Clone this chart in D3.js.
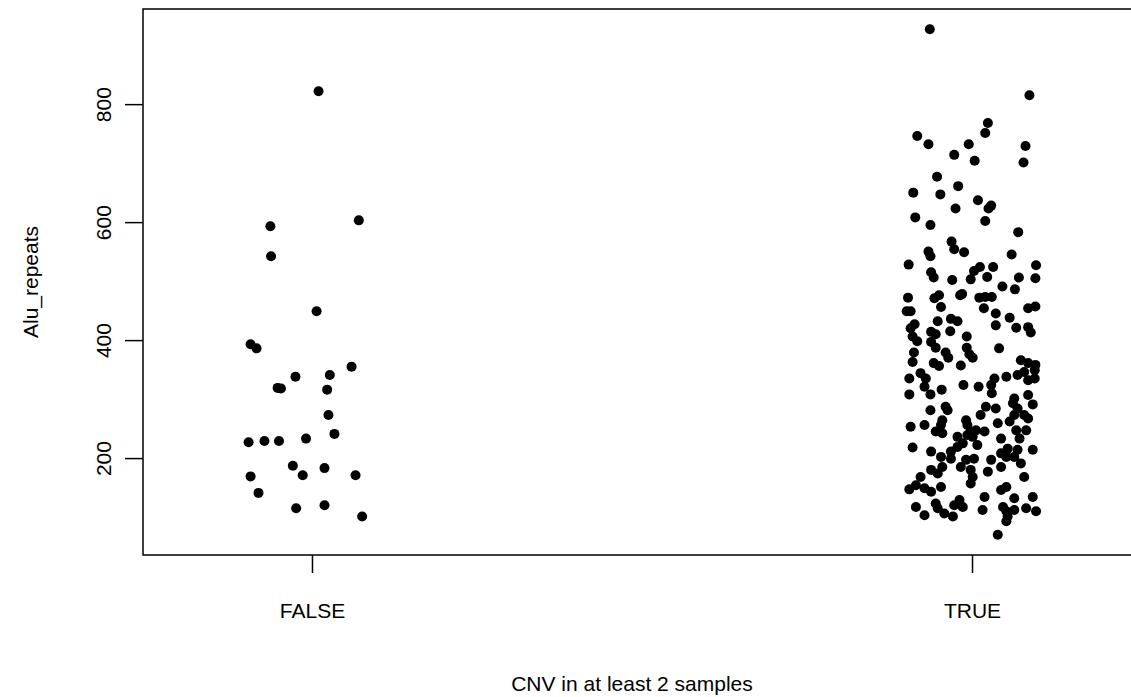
<!DOCTYPE html>
<html>
<head>
<meta charset="utf-8">
<script src="https://cdn.jsdelivr.net/npm/d3@7"></script>
<style>
  html, body { margin: 0; padding: 0; background: #fff; }
  svg { display: block; font-family: "Liberation Sans", Arial, Helvetica, sans-serif; }
</style>
</head>
<body>
<svg id="chart" width="1131" height="697"></svg>
<script>
// Group labels and y-axis ticks
const categories = ["FALSE", "TRUE"];
const yTicks = [200, 400, 600, 800];
const xTitle = "CNV in at least 2 samples";
const yTitle = "Alu_repeats";

// Alu repeat counts per group, with the horizontal jitter offset of each point
const falseValues = [822, 603, 593, 542, 449, 393, 386, 355, 338, 341, 319, 318, 316, 273,
  227, 229, 229, 233, 241, 187, 171, 183, 169, 171, 141, 115, 120, 101];
const falseJitter = [0.010, 0.071, -0.063, -0.062, 0.007, -0.093, -0.084, 0.060, -0.025, 0.027,
  -0.052, -0.047, 0.023, 0.025, -0.096, -0.072, -0.050, -0.009, 0.034, -0.029, -0.014, 0.019,
  -0.093, 0.066, -0.081, -0.024, 0.019, 0.076];

const trueValues = [927, 815, 768, 746, 751, 732, 732, 729, 714, 704, 701, 677, 661, 650, 647,
  637, 628, 623, 623, 608, 602, 595, 583, 567, 554, 549, 550, 542, 545, 528, 527, 524, 524, 517,
  515, 506, 503, 502, 507, 506, 505, 491, 486, 472, 476, 471, 476, 478, 472, 473, 473, 456, 449,
  449, 454, 445, 454, 457, 438, 432, 436, 432, 427, 420, 425, 421, 422, 414, 410, 415, 406, 398,
  406, 413, 397, 387, 387, 379, 379, 370, 370, 376, 386, 363, 361, 356, 357, 366, 361, 358, 335,
  344, 335, 321, 308, 308, 316, 324, 321, 335, 324, 310, 338, 341, 346, 349, 332, 335, 307, 301,
  293, 291, 281, 287, 281, 287, 284, 273, 284, 273, 273, 267, 264, 256, 264, 256, 259, 262, 253,
  256, 245, 242, 245, 247, 236, 239, 245, 236, 233, 247, 233, 247, 218, 211, 211, 219, 225, 222,
  216, 208, 214, 202, 214, 202, 199, 197, 199, 197, 202, 185, 180, 177, 191, 180, 174, 185, 185,
  168, 168, 168, 147, 154, 149, 143, 151, 157, 146, 151, 134, 134, 132, 117, 123, 115, 120, 129,
  117, 112, 117, 110, 101, 112, 115, 110, 103, 106, 101, 70, 93];
const trueJitter = [-0.064, 0.087, 0.024, -0.083, 0.020, -0.066, -0.005, 0.081, -0.027, 0.004,
  0.078, -0.053, -0.021, -0.089, -0.048, 0.009, 0.029, 0.025, -0.025, -0.086, 0.020, -0.063,
  0.070, -0.031, -0.027, -0.012, -0.066, -0.063, 0.060, -0.096, 0.097, 0.012, 0.032, 0.003,
  -0.062, -0.058, -0.002, -0.030, 0.023, 0.071, 0.096, 0.046, 0.065, -0.097, -0.050, -0.057,
  -0.018, -0.015, 0.011, 0.020, 0.030, -0.047, -0.099, -0.093, 0.018, 0.036, 0.085, 0.096,
  0.057, -0.052, -0.032, -0.022, -0.087, -0.093, 0.036, 0.067, 0.085, -0.062, -0.055, -0.033,
  -0.090, -0.083, -0.008, 0.089, -0.062, -0.055, -0.008, -0.088, -0.040, -0.036, 0.001, -0.004,
  0.041, -0.090, -0.058, -0.050, -0.017, 0.074, 0.085, 0.096, -0.095, -0.078, -0.070, -0.072,
  -0.063, -0.095, -0.046, -0.013, 0.010, 0.034, 0.029, 0.030, 0.052, 0.069, 0.079, 0.095, 0.085,
  0.095, 0.085, 0.064, 0.062, 0.092, -0.063, -0.040, -0.037, 0.021, 0.036, 0.013, 0.069, 0.064,
  0.079, 0.085, -0.045, -0.047, -0.009, -0.007, 0.039, 0.057, -0.093, -0.072, -0.055, -0.045,
  -0.002, 0.006, 0.001, -0.007, 0.019, -0.022, 0.044, 0.067, 0.072, 0.082, -0.090, -0.062,
  -0.032, -0.022, -0.014, 0.008, 0.054, 0.044, 0.069, 0.064, 0.092, -0.047, -0.032, -0.009,
  0.003, 0.029, 0.052, -0.017, -0.002, 0.024, 0.074, -0.062, -0.052, 0.044, -0.045, -0.078,
  0.001, 0.079, -0.095, -0.085, -0.072, -0.062, -0.047, -0.002, 0.044, 0.052, 0.019, 0.092,
  0.064, -0.085, -0.055, -0.052, -0.027, -0.019, -0.014, 0.016, 0.047, 0.052, 0.054, 0.064,
  0.082, 0.097, -0.072, -0.042, -0.029, 0.039, 0.052];

const groups = [
  { values: falseValues, jitter: falseJitter },
  { values: trueValues, jitter: trueJitter }
];

const points = [];
groups.forEach((g, i) => {
  g.values.forEach((v, j) => points.push({ x: i + 1 + g.jitter[j], y: v }));
});

const svg = d3.select("#chart");

// Plot region (the right side runs past the page edge)
const plotLeft = 143, plotRight = 1141, plotTop = 9, plotBottom = 555;

// Group axis: 1..n widened by the jitter span, then padded by 4%
const jitterSpan = 0.1;
const gLo = 1 - 2 * jitterSpan, gHi = categories.length + 2 * jitterSpan;
const gPad = (gHi - gLo) * 0.04;
const x = d3.scaleLinear().domain([gLo - gPad, gHi + gPad]).range([plotLeft, plotRight]);

const yExt = d3.extent(points, d => d.y);
const yPad = (yExt[1] - yExt[0]) * 0.04;
const y = d3.scaleLinear().domain([yExt[0] - yPad, yExt[1] + yPad]).range([plotBottom, plotTop]);

// Points
svg.append("g")
  .selectAll("circle")
  .data(points)
  .join("circle")
  .attr("cx", d => x(d.x))
  .attr("cy", d => y(d.y))
  .attr("r", 5)
  .attr("fill", "#000");

// Frame
svg.append("rect")
  .attr("x", plotLeft).attr("y", plotTop)
  .attr("width", plotRight - plotLeft).attr("height", plotBottom - plotTop)
  .attr("fill", "none").attr("stroke", "#000").attr("stroke-width", 1.5);

// Y axis with rotated tick labels
const yAxis = svg.append("g")
  .attr("transform", `translate(${plotLeft},0)`)
  .call(d3.axisLeft(y).tickValues(yTicks).tickSize(18).tickSizeOuter(0));
yAxis.select(".domain").remove();
yAxis.selectAll(".tick line").attr("stroke", "#000").attr("stroke-width", 1.5);
yAxis.selectAll(".tick text")
  .attr("font-size", 21).attr("fill", "#000")
  .attr("text-anchor", "middle")
  .attr("x", null).attr("dy", null).attr("y", 0)
  .attr("transform", "translate(-32,0) rotate(-90)");

// X axis
const xAxis = svg.append("g")
  .attr("transform", `translate(0,${plotBottom})`)
  .call(d3.axisBottom(x).tickValues([1, 2]).tickFormat((d, i) => categories[i])
    .tickSize(18).tickSizeOuter(0));
xAxis.select(".domain").remove();
xAxis.selectAll(".tick line").attr("stroke", "#000").attr("stroke-width", 1.5);
xAxis.selectAll(".tick text").attr("font-size", 21).attr("fill", "#000")
  .attr("dy", null).attr("y", 63);

// Axis titles
svg.append("text")
  .attr("x", 632).attr("y", 691)
  .attr("text-anchor", "middle").attr("font-size", 21).attr("fill", "#000")
  .text(xTitle);

svg.append("text")
  .attr("transform", `translate(38,${(plotTop + plotBottom) / 2}) rotate(-90)`)
  .attr("text-anchor", "middle").attr("font-size", 21).attr("fill", "#000")
  .text(yTitle);
</script>
</body>
</html>
